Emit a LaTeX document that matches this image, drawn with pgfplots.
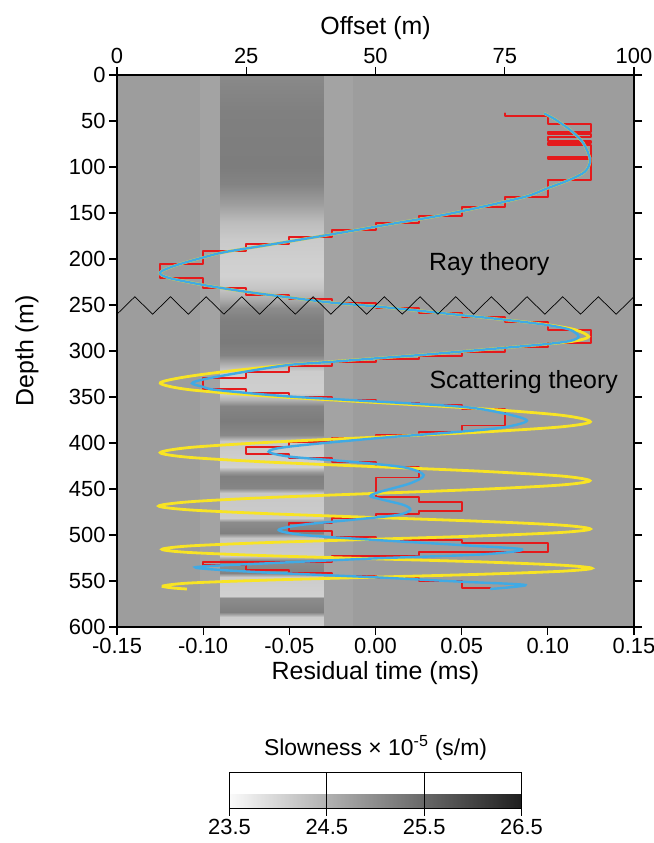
\documentclass[border=0pt]{standalone}
\usepackage{fontspec}
\setmainfont{Liberation Sans}
\usepackage{pgfplots}
\usepackage{pgfplotstable}
\pgfplotsset{compat=1.18}
\definecolor{bgg}{RGB}{157,157,157}
\definecolor{stripg}{RGB}{163,163,163}
\definecolor{cred}{RGB}{228,26,28}
\definecolor{cblue}{RGB}{64,170,228}
\definecolor{cyel}{RGB}{248,228,36}

\pgfplotstableread{
x y s
-0.09 0 25.04
-0.03 0 25.04
-0.09 40 25.17
-0.03 40 25.17
-0.09 100 25.21
-0.03 100 25.21
-0.09 118 25.12
-0.03 118 25.12
-0.09 140 24.76
-0.03 140 24.76
-0.09 160 24.34
-0.03 160 24.34
-0.09 178 24.16
-0.03 178 24.16
-0.09 200 24.09
-0.03 200 24.09
-0.09 218 24.06
-0.03 218 24.06
-0.09 232 24.22
-0.03 232 24.22
-0.09 243 24.55
-0.03 243 24.55
-0.09 253 25.00
-0.03 253 25.00
-0.09 265 25.17
-0.03 265 25.17
-0.09 290 25.24
-0.03 290 25.24
-0.09 304 25.12
-0.03 304 25.12
-0.09 314 24.55
-0.03 314 24.55
-0.09 322 24.13
-0.03 322 24.13
-0.09 346 24.09
-0.03 346 24.09
-0.09 353 24.50
-0.03 353 24.50
-0.09 360 25.10
-0.03 360 25.10
-0.09 376 25.22
-0.03 376 25.22
-0.09 391 25.05
-0.03 391 25.05
-0.09 398 24.20
-0.03 398 24.20
-0.09 426 24.06
-0.03 426 24.06
-0.09 431 24.80
-0.03 431 24.80
-0.09 436 25.17
-0.03 436 25.17
-0.09 449 25.10
-0.03 449 25.10
-0.09 454 24.20
-0.03 454 24.20
-0.09 481 24.13
-0.03 481 24.13
-0.09 486 25.00
-0.03 486 25.00
-0.09 498 25.17
-0.03 498 25.17
-0.09 503 24.20
-0.03 503 24.20
-0.09 523 24.13
-0.03 523 24.13
-0.09 527 25.00
-0.03 527 25.00
-0.09 541 25.12
-0.03 541 25.12
-0.09 546 24.13
-0.03 546 24.13
-0.09 566 24.06
-0.03 566 24.06
-0.09 569 25.00
-0.03 569 25.00
-0.09 584 25.17
-0.03 584 25.17
-0.09 589 24.13
-0.03 589 24.13
-0.09 600 24.06
-0.03 600 24.06
}\band

\begin{document}
\begin{tikzpicture}
\useasboundingbox (-117bp,-216bp) rectangle (537bp,627bp);
\begin{axis}[
 at={(0,0)}, anchor=south west,
 width=517bp, height=552bp, scale only axis,
 xmin=-0.15, xmax=0.15, ymin=0, ymax=600, y dir=reverse,
 enlargelimits=false, axis on top,
 xtick={-0.15,-0.1,-0.05,0,0.05,0.1,0.15},
 ytick={0,50,...,600},
 xtick pos=left, ytick pos=both, yticklabel pos=left,
 tick align=outside,
 major tick length=8bp,
 every tick/.style={black, line width=1.2bp},
 axis line style={line width=1.3bp},
 xticklabel style={/pgf/number format/.cd, fixed, fixed zerofill, precision=2},
 /pgf/number format/assume math mode=true,
 tick label style={font=\fontsize{22}{26}\selectfont},
 label style={font=\fontsize{25}{30}\selectfont},
 xlabel={Residual time (ms)}, ylabel={Depth (m)},
 xlabel style={at={(axis description cs:0.5,-0.0833)}, anchor=center},
 ylabel style={at={(axis description cs:-0.174,0.5)}, anchor=center},
 axis background/.style={fill=bgg},
 colormap={slow}{gray(0cm)=(0.98); gray(1cm)=(0.12)},
 point meta min=23.5, point meta max=26.5,
 colorbar horizontal,
 colorbar style={
   at={(parent axis.south)}, anchor=north, yshift=-136.7bp,
   width=292bp, height=36.6bp, scale only axis,
   xtick={23.5,24.5,25.5,26.5},
   xticklabel style={/pgf/number format/.cd, fixed, fixed zerofill, precision=1},
   /pgf/number format/assume math mode=true,
   tick label style={font=\fontsize{22}{26}\selectfont},
   xtick align=outside, xtick pos=left, xticklabel pos=left,
   major tick length=7bp,
   every tick/.style={black, line width=1.2bp},
   xmajorgrids, major grid style={black, line width=1.2bp},
   axis line style={line width=1.2bp},
   title={Slowness × 10\textsuperscript{-5} (s/m)},
   title style={font=\fontsize{23}{27}\selectfont, yshift=2bp},
 },
]
\addplot[draw=none, fill=stripg] coordinates {(-0.102,0) (-0.09,0) (-0.09,600) (-0.102,600)} -- cycle;
\addplot[draw=none, fill=stripg] coordinates {(-0.03,0) (-0.013,0) (-0.013,600) (-0.03,600)} -- cycle;
\addplot[surf, shader=interp, mesh/cols=2, point meta=explicit] table[x=x, y=y, meta=s] {\band};

% red: observed, quantized
\addplot[draw=cred, line width=1.9bp, line join=round, line cap=round, mark=none] coordinates {
(0.0752,41.6) (0.0752,44.1) (0.1,44.1) (0.1,53.3) (0.125,53.3) (0.125,62.3) (0.1,62.3) (0.1,64.5) (0.125,64.5) (0.125,67) (0.1,67) (0.1,71.4) (0.125,71.4) (0.125,74.2) (0.1,74.2) (0.1,76) (0.125,76) (0.125,89.5) (0.1,89.5) (0.1,91.5) (0.125,91.5) (0.125,114) (0.1,114) (0.1,132.3) (0.075,132.3) (0.075,143) (0.05,143) (0.05,152.9) (0.025,152.9) (0.025,161.2) (0.0001,161.2) (0.0001,168.5) (-0.025,168.5) (-0.025,176.4) (-0.05,176.4) (-0.05,183.7) (-0.075,183.7) (-0.075,191.3) (-0.1,191.3) (-0.1,205) (-0.125,205) (-0.125,221) (-0.1,221) (-0.1,231.9) (-0.075,231.9) (-0.075,239) (-0.05,239) (-0.05,243.8) (-0.025,243.8) (-0.025,248) (0.0001,248) (0.0001,253.6) (0.025,253.6) (0.025,258.3) (0.05,258.3) (0.05,263.4) (0.075,263.4) (0.075,268.8) (0.1,268.8) (0.1,277.2) (0.125,277.2) (0.125,291.7) (0.1,291.7) (0.1,296) (0.075,296) (0.075,300.7) (0.05,300.7) (0.05,305) (0.025,305) (0.025,308.3) (0.0001,308.3) (0.0001,311.7) (-0.025,311.7) (-0.025,316) (-0.05,316) (-0.05,323.3) (-0.075,323.3) (-0.075,329.3) (-0.1,329.3) (-0.1,341.7) (-0.075,341.7) (-0.075,346) (-0.05,346) (-0.05,350) (-0.025,350) (-0.025,353.3) (0.0001,353.3) (0.0001,356) (0.025,356) (0.025,358.7) (0.05,358.7) (0.05,363.4) (0.075,363.4) (0.075,381) (0.05,381) (0.05,387.7) (0.025,387.7) (0.025,391) (0.0001,391) (0.0001,395) (-0.025,395) (-0.025,399) (-0.05,399) (-0.05,404.7) (-0.075,404.7) (-0.075,412) (-0.05,412) (-0.05,416.7) (-0.025,416.7) (-0.025,420.3) (0.0001,420.3) (0.0001,426.4) (0.025,426.4) (0.025,437.5) (0.0001,437.5) (0.0001,459) (0.025,459) (0.025,463.8) (0.05,463.8) (0.05,473.6) (0.025,473.6) (0.025,477.5) (0.0001,477.5) (0.0001,481.9) (-0.025,481.9) (-0.025,486.6) (-0.05,486.6) (-0.05,496) (-0.025,496) (-0.025,501.8) (0.0001,501.8) (0.0001,505.4) (0.05,505.4) (0.05,509) (0.1,509) (0.1,518) (0.025,518) (0.025,522.8) (-0.025,522.8) (-0.025,529.7) (-0.1,529.7) (-0.1,533) (-0.075,533) (-0.075,538) (-0.05,538) (-0.05,541) (-0.025,541) (-0.025,544) (0.0001,544) (0.0001,547) (0.025,547) (0.025,549.6) (0.05,549.6) (0.05,558) (0.0665,558)
};

% yellow: scattering theory (full)
\addplot[cyel, line width=2.8bp, smooth, mark=none] coordinates {
(0.0978,41.7) (0.104,48) (0.113,59.8) (0.1206,74) (0.1245,92.4) (0.1216,105) (0.1125,114) (0.1,123) (0.0875,132) (0.0625,143) (0.0375,152.8) (0.0125,160.8) (-0.0125,169) (-0.0375,177) (-0.0625,184.8) (-0.0875,192.5) (-0.0997,198.2) (-0.1152,206.5) (-0.1239,213) (-0.1248,216.5) (-0.119,221) (-0.0997,228.3) (-0.0755,235.5) (-0.0504,241.7) (-0.0252,247.5) (0,251.5) (0.0241,256) (0.0492,260.9) (0.075,266)
(0.1,271.5) (0.116,277) (0.1237,284.4) (0.116,289) (0.1,292.4) (0.075,296.5) (0.0492,300.7) (0.025,304.5) (0,308) (-0.025,311.5) (-0.05,315) (-0.088,322.5) (-0.113,329) (-0.1249,335.1)
(-0.108,342.05) (-0.0625,349) (0,355.95) (0.0625,362.9) (0.108,369.85) (0.1247,376.8)
(0.108,382.4) (0.0625,388) (0,393.65) (-0.0625,399.3) (-0.108,404.9) (-0.1249,410.5)
(-0.108,415.6) (-0.0625,420.7) (0,425.75) (0.0625,430.8) (0.108,435.9) (0.1244,441)
(0.108,445.6) (0.0625,450.2) (0,454.75) (-0.0625,459.3) (-0.108,463.9) (-0.1258,468.5)
(-0.108,472.7) (-0.0625,476.8) (0,481) (0.0625,485.2) (0.108,489.3) (0.1247,493.5)
(0.108,497.2) (0.0625,500.9) (0,504.55) (-0.0625,508.2) (-0.108,511.9) (-0.1239,515.6)
(-0.108,519) (-0.0625,522.5) (0,525.9) (0.0625,529.3) (0.108,532.8) (0.1256,536.2)
(0.108,539.4) (0.0625,542.6) (0,545.8) (-0.0625,549) (-0.108,552.2) (-0.1233,555.4)
(-0.118,557.5) (-0.1094,558.7)
};

% blue: scattering theory (limited)
\addplot[cblue, line width=2.4bp, smooth, mark=none] coordinates {
(0.0978,41.7) (0.104,48) (0.113,59.8) (0.1206,74) (0.1245,92.4) (0.1216,105) (0.1125,114) (0.1,123) (0.0875,132) (0.0625,143) (0.0375,152.8) (0.0125,160.8) (-0.0125,169) (-0.0375,177) (-0.0625,184.8) (-0.0875,192.5) (-0.0997,198.2) (-0.1152,206.5) (-0.1239,213) (-0.1248,216.5) (-0.119,221) (-0.0997,228.3) (-0.0755,235.5) (-0.0504,241.7) (-0.0252,247.5) (0,251.5) (0.0241,256) (0.0492,260.9) (0.075,266) (0.0995,271.7) (0.113,277) (0.1179,284.4) (0.113,289) (0.0995,292.4) (0.075,296.5) (0.0492,300.7) (0.025,304.5) (0,308) (-0.025,311.7) (-0.0504,315.2) (-0.0755,322.5) (-0.0997,330.8) (-0.1065,335.1) (-0.1,339) (-0.092,342.4) (-0.0533,349) (-0.0146,353.3) (0.0492,360.5) (0.0744,367.8) (0.0879,375.7) (0.0744,383) (0.0492,387.7) (0,394.9) (-0.0504,404) (-0.062,409.4) (-0.0494,414.9) (-0.0146,420.3) (0.0164,426.4) (0.028,434.8) (0.0202,443.8) (0.0028,452.9) (-0.003,457.6) (0.0028,461) (0.0164,467.4) (0.0202,472.8) (0.0125,478.3) (-0.0146,483.7) (-0.0436,489.1) (-0.0562,494.6) (-0.0417,500) (0,505.4) (0.0492,510.9) (0.085,515.6) (0.0628,521) (0,525.4) (-0.063,530.8) (-0.1046,535.1) (-0.0726,539.9) (0,546) (0.0492,550.7) (0.087,554.3) (0.0666,558.7)
};

% zigzag separator
\addplot[black, line width=0.7bp, mark=none] coordinates {
(-0.15,260) (-0.13966,241) (-0.12931,260) (-0.11897,241) (-0.10862,260) (-0.09828,241) (-0.08793,260) (-0.07759,241) (-0.06724,260) (-0.05690,241) (-0.04655,260) (-0.03621,241) (-0.02586,260) (-0.01552,241) (-0.00517,260) (0.00517,241) (0.01552,260) (0.02586,241) (0.03621,260) (0.04655,241) (0.05690,260) (0.06724,241) (0.07759,260) (0.08793,241) (0.09828,260) (0.10862,241) (0.11897,260) (0.12931,241) (0.13966,260) (0.15,241)
};

\node[font=\fontsize{25}{30}\selectfont] at (axis cs:0.066,205) {Ray theory};
\node[font=\fontsize{25}{30}\selectfont] at (axis cs:0.086,334) {Scattering theory};
\end{axis}

\begin{axis}[
 at={(0,0)}, anchor=south west,
 width=517bp, height=552bp, scale only axis,
 xmin=0, xmax=100, ymin=0, ymax=1,
 axis x line*=top, axis y line=none,
 x axis line style={-, line width=1.3bp},
 xtick={0,25,50,75,100},
 tick align=outside, major tick length=8bp,
 every tick/.style={black, line width=1.2bp},
 /pgf/number format/assume math mode=true,
 tick label style={font=\fontsize{22}{26}\selectfont},
 label style={font=\fontsize{25}{30}\selectfont},
 xlabel={Offset (m)},
 xlabel style={at={(axis description cs:0.5,1.085)}, anchor=center},
]
\end{axis}
\end{tikzpicture}
\end{document}
